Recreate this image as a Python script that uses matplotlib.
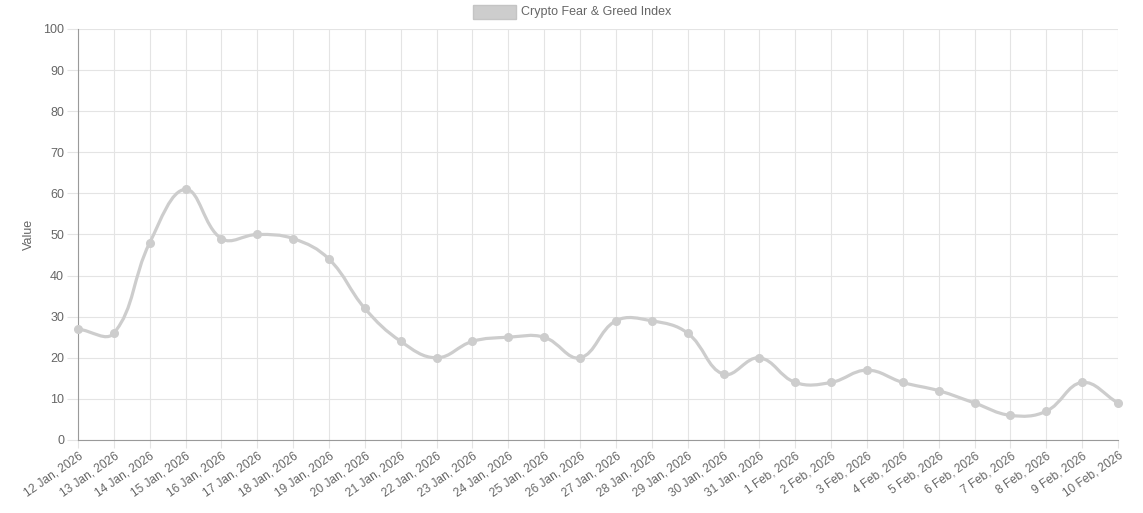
import numpy as np
import matplotlib.pyplot as plt
from matplotlib.path import Path
from matplotlib.patches import PathPatch, Rectangle

plt.rcParams['font.family'] = ['Liberation Sans', 'DejaVu Sans']

# dane
dates = ['12 Jan, 2026', '13 Jan, 2026', '14 Jan, 2026', '15 Jan, 2026', '16 Jan, 2026',
         '17 Jan, 2026', '18 Jan, 2026', '19 Jan, 2026', '20 Jan, 2026', '21 Jan, 2026',
         '22 Jan, 2026', '23 Jan, 2026', '24 Jan, 2026', '25 Jan, 2026', '26 Jan, 2026',
         '27 Jan, 2026', '28 Jan, 2026', '29 Jan, 2026', '30 Jan, 2026', '31 Jan, 2026',
         '1 Feb, 2026', '2 Feb, 2026', '3 Feb, 2026', '4 Feb, 2026', '5 Feb, 2026',
         '6 Feb, 2026', '7 Feb, 2026', '8 Feb, 2026', '9 Feb, 2026', '10 Feb, 2026']
values = [27, 26, 48, 61, 49, 50, 49, 44, 32, 24, 20, 24, 25, 25, 20,
          29, 29, 26, 16, 20, 14, 14, 17, 14, 12, 9, 6, 7, 14, 9]
series_name = 'Crypto Fear & Greed Index'
y_ticks = list(range(0, 101, 10))

W, H = 1143, 513
fig = plt.figure(figsize=(W / 100, H / 100), dpi=100)
ax = fig.add_axes([78 / W, 73 / H, 1040 / W, 411 / H])

n = len(values)
x = np.arange(n)
y = np.array(values, dtype=float)
ax.set_xlim(0, n - 1)
ax.set_ylim(0, 100)

# spline jak w Chart.js (tension 0.4), liczony w pikselach
sx = 1040 / (n - 1)
sy = 411 / 100
px, py = x * sx, y * sy
t = 0.4
cprev, cnext = [], []
for i in range(n):
    a = max(i - 1, 0)
    b = min(i + 1, n - 1)
    d01 = np.hypot(px[i] - px[a], py[i] - py[a])
    d12 = np.hypot(px[b] - px[i], py[b] - py[i])
    tot = d01 + d12
    s01 = d01 / tot if tot else 0
    s12 = d12 / tot if tot else 0
    fa, fb = t * s01, t * s12
    cprev.append((px[i] - fa * (px[b] - px[a]), py[i] - fa * (py[b] - py[a])))
    cnext.append((px[i] + fb * (px[b] - px[a]), py[i] + fb * (py[b] - py[a])))

verts = [(x[0], y[0])]
codes = [Path.MOVETO]
for i in range(n - 1):
    c1 = cnext[i]
    c2 = cprev[i + 1]
    verts += [(c1[0] / sx, min(max(c1[1] / sy, 0), 100)),
              (c2[0] / sx, min(max(c2[1] / sy, 0), 100)),
              (x[i + 1], y[i + 1])]
    codes += [Path.CURVE4] * 3
line_col = '#cdcdcd'
ax.add_patch(PathPatch(Path(verts, codes), facecolor='none', edgecolor=line_col,
                       lw=2.3, zorder=3, capstyle='round', joinstyle='round'))
ax.plot(x, y, 'o', color=line_col, ms=5.5, zorder=4, clip_on=False)

# siatka i osie
grid_col = '#e4e4e4'
ax.set_yticks(y_ticks)
ax.set_xticks(x)
ax.grid(True, color=grid_col, lw=0.8)
ax.set_axisbelow(True)
for s in ['top', 'right']:
    ax.spines[s].set_visible(False)
ax.spines['left'].set_color('#9a9a9a')
ax.spines['bottom'].set_color('#9a9a9a')
ax.tick_params(axis='y', color=grid_col, length=8, width=0.8,
               labelcolor='#666666', labelsize=9, pad=2)
ax.tick_params(axis='x', color=grid_col, length=6, width=0.8,
               labelcolor='#666666', labelsize=8.6, pad=1)
ax.set_xticklabels(dates, rotation=35, ha='right', rotation_mode='anchor')
ax.set_ylabel('Value', color='#666666', fontsize=9)
ax.yaxis.set_label_coords(-0.041, 0.5)

# legenda
fig.patches.append(Rectangle((473 / W, 1 - 19 / H), 43 / W, 14 / H,
                             transform=fig.transFigure, facecolor='#cdcdcd',
                             edgecolor='#c4c4c4', lw=1))
fig.text(521 / W, 1 - 12 / H, series_name, color='#666666', fontsize=9,
         va='center', ha='left')

fig.savefig('out.png', dpi=100)
